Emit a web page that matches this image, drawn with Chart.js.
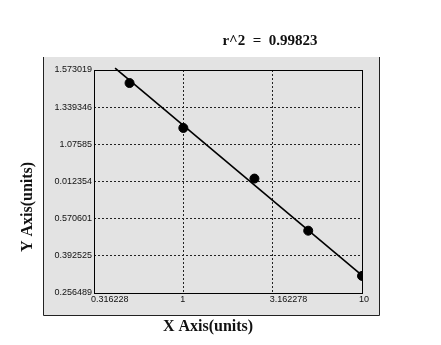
<!DOCTYPE html>
<html>
<head>
<meta charset="utf-8">
<script src="https://cdn.jsdelivr.net/npm/chart.js@4.4.0/dist/chart.umd.min.js"></script>
<style>
  html, body { margin: 0; padding: 0; background: #fff; }
  #wrap { width: 441px; height: 345px; }
</style>
</head>
<body>
<div id="wrap"><canvas id="myChart" width="441" height="345"></canvas></div>
<script>
// standards
const xValues = [0.5, 1, 2.5, 5, 10];
const yValues = [1.491, 1.192, 0.833, 0.513, 0.319];

// fitted line ends
const fitX = [0.415, 10];
const fitY = [1.585, 0.321];

// axis ticks (y listed bottom to top, labels as printed)
const xTickValues = [0.316228, 1, 3.162278, 10];
const xTickLabels = ['0.316228', '1', '3.162278', '10'];
const yTickValues = [0.256489, 0.392525, 0.570601, 0.812354, 1.07585, 1.339346, 1.573019];
const yTickLabels = ['0.256489', '0.392525', '0.570601', '0.012354', '1.07585', '1.339346', '1.573019'];

const rSquared = 'r^2  =  0.99823';
const xTitle = 'X Axis(units)';
const yTitle = 'Y Axis(units)';

// y axis is spaced by tick index, so map a value onto that index
function toAxis(v) {
  const t = yTickValues;
  let i = 0;
  while (i < t.length - 2 && v > t[i + 1]) i++;
  return i + (v - t[i]) / (t[i + 1] - t[i]);
}

const panelColor = '#e3e3e3';

const decor = {
  id: 'decor',
  beforeDraw(chart) {
    const ctx = chart.ctx;
    ctx.save();
    ctx.fillStyle = '#fff';
    ctx.fillRect(0, 0, chart.width, chart.height);
    ctx.fillStyle = panelColor;
    ctx.fillRect(43, 57, 336, 258);
    ctx.strokeStyle = '#222';
    ctx.lineWidth = 1;
    ctx.beginPath();
    ctx.moveTo(43.5, 57);
    ctx.lineTo(43.5, 315.5);
    ctx.lineTo(379.5, 315.5);
    ctx.lineTo(379.5, 57);
    ctx.stroke();
    ctx.restore();
  },
  afterDraw(chart) {
    const ctx = chart.ctx;
    const a = chart.chartArea;
    ctx.save();
    ctx.strokeStyle = '#000';
    ctx.lineWidth = 1;
    ctx.strokeRect(Math.round(a.left) + 0.5, Math.round(a.top) + 0.5,
      Math.round(a.right - a.left), Math.round(a.bottom - a.top));

    ctx.fillStyle = '#111';
    ctx.textAlign = 'center';
    ctx.textBaseline = 'middle';
    ctx.font = 'bold 15px "Liberation Serif", serif';
    ctx.fillText(rSquared, 270, 41);
    ctx.font = 'bold 16px "Liberation Serif", serif';
    ctx.fillText(xTitle, 208, 327);
    ctx.translate(28, 207);
    ctx.rotate(-Math.PI / 2);
    ctx.fillText(yTitle, 0, 0);
    ctx.restore();
  }
};

new Chart(document.getElementById('myChart'), {
  type: 'scatter',
  data: {
    datasets: [
      {
        type: 'line',
        data: fitX.map((x, i) => ({ x: x, y: toAxis(fitY[i]) })),
        borderColor: '#000',
        borderWidth: 1.6,
        pointRadius: 0,
        fill: false,
        clip: false,
        order: 2
      },
      {
        data: xValues.map((x, i) => ({ x: x, y: toAxis(yValues[i]) })),
        backgroundColor: '#000',
        borderColor: '#000',
        pointRadius: 4.5,
        pointHoverRadius: 4.5,
        order: 1
      }
    ]
  },
  options: {
    responsive: false,
    animation: false,
    events: [],
    layout: { padding: { left: 0, top: 70, right: 79, bottom: 0 } },
    plugins: {
      legend: { display: false },
      tooltip: { enabled: false }
    },
    scales: {
      x: {
        type: 'logarithmic',
        bounds: 'data',
        min: xTickValues[0],
        max: xTickValues[xTickValues.length - 1],
        afterBuildTicks: (scale) => {
          scale.ticks = xTickValues.map((v) => ({ value: v }));
          scale.min = xTickValues[0];
          scale.max = xTickValues[xTickValues.length - 1];
        },
        afterFit: (scale) => { scale.height = 52; },
        border: { display: false, dash: [2, 2] },
        grid: { color: '#222', lineWidth: 1, drawTicks: false },
        ticks: {
          autoSkip: false,
          maxRotation: 0,
          align: 'start',
          labelOffset: -3,
          padding: 1,
          color: '#111',
          font: { family: '"Liberation Sans", Arial, sans-serif', size: 9 },
          callback: (v, i) => xTickLabels[i]
        }
      },
      y: {
        type: 'linear',
        min: 0,
        max: yTickValues.length - 1,
        afterFit: (scale) => { scale.width = 94; },
        border: { display: false, dash: [2, 2] },
        grid: { color: '#222', lineWidth: 1, drawTicks: false },
        ticks: {
          stepSize: 1,
          autoSkip: false,
          padding: 2,
          color: '#111',
          font: { family: '"Liberation Sans", Arial, sans-serif', size: 9 },
          callback: (v) => yTickLabels[v]
        }
      }
    }
  },
  plugins: [decor]
});
</script>
</body>
</html>
